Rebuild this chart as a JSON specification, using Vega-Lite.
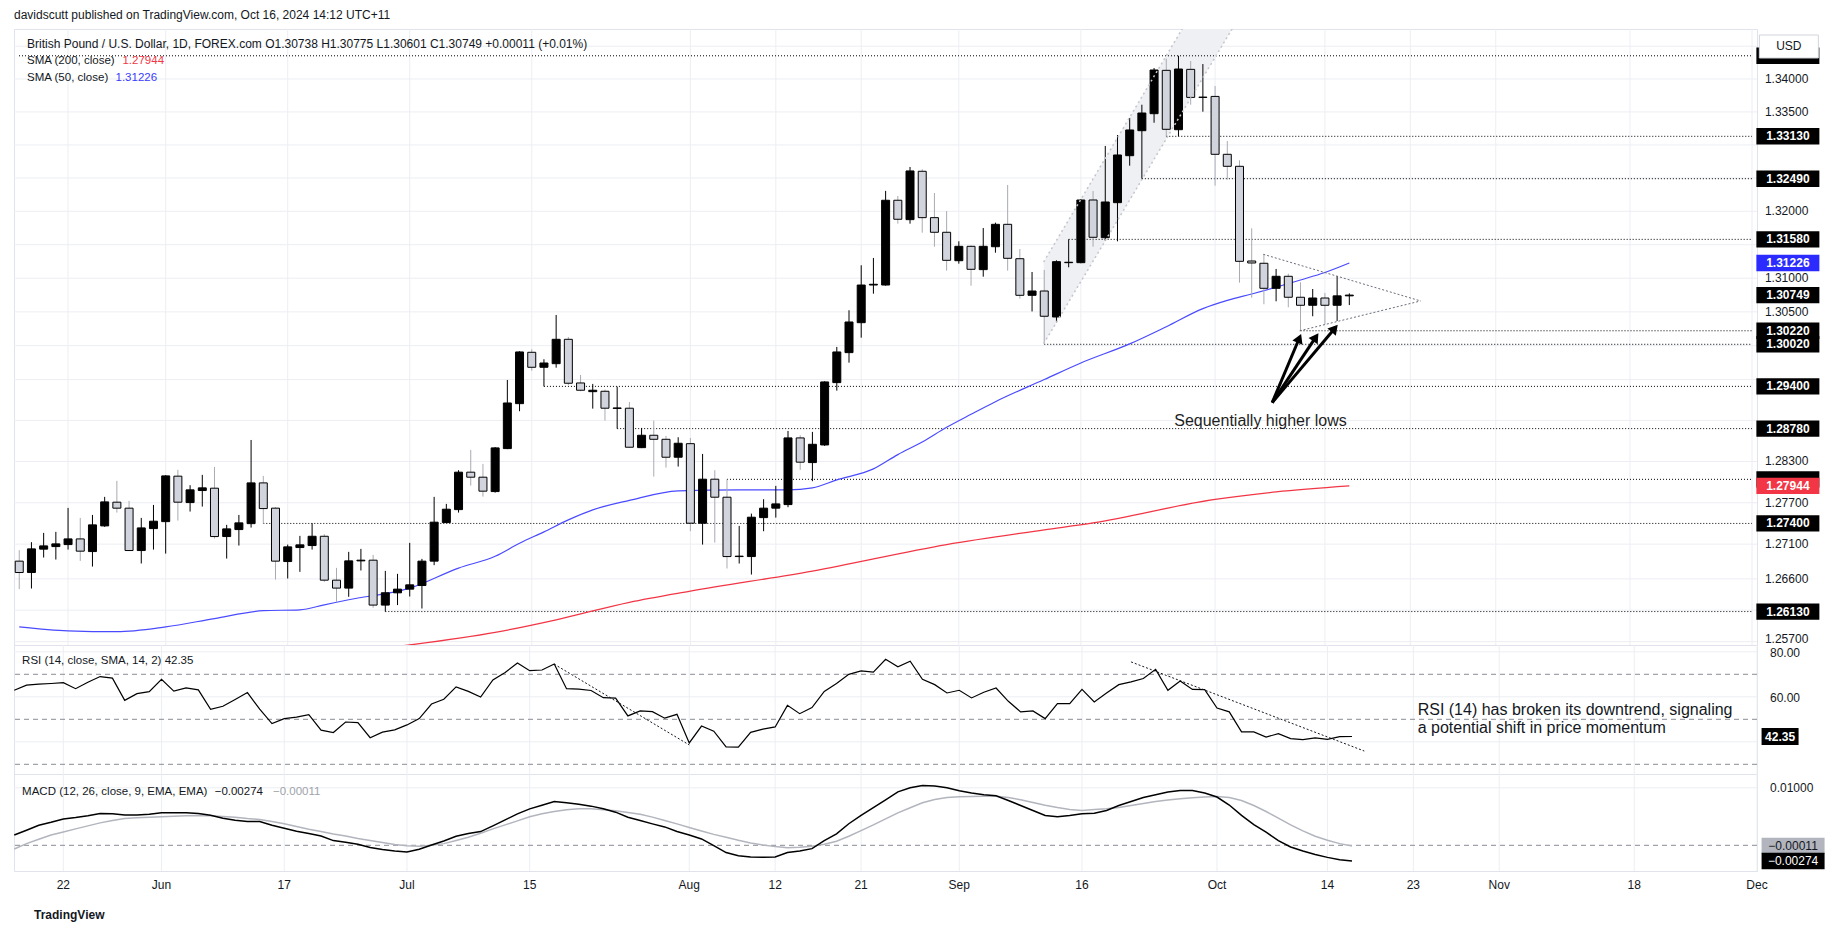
{
"$schema": "https://vega.github.io/schema/vega-lite/v6.json",
"background": "#ffffff",
"padding": {"left": 10, "top": 9, "right": 5, "bottom": 5},
"title": {"text": "davidscutt published on TradingView.com, Oct 16, 2024 14:12 UTC+11", "anchor": "start", "frame": "group", "fontSize": 12, "fontWeight": "normal", "font": "Liberation Sans", "color": "#131722", "offset": 6},
"config": {"font": "Liberation Sans", "view": {"stroke": "#e0e3eb"}, "axis": {"disable": true}},
"spacing": 0,
"bounds": "flush",
"datasets": {
"one": [{}],
"xt": [{"g":0,"t":"22"},{"g":8,"t":"Jun"},{"g":18,"t":"17"},{"g":28,"t":"Jul"},{"g":38,"t":"15"},{"g":51,"t":"Aug"},{"g":58,"t":"12"},{"g":65,"t":"21"},{"g":73,"t":"Sep"},{"g":83,"t":"16"},{"g":94,"t":"Oct"},{"g":103,"t":"14"},{"g":110,"t":"23"},{"g":117,"t":"Nov"},{"g":128,"t":"18"},{"g":138,"t":"Dec"}],
"pgrid": [{"p":1.257},{"p":1.2615},{"p":1.266},{"p":1.271},{"p":1.277},{"p":1.283},{"p":1.289},{"p":1.295},{"p":1.3},{"p":1.305},{"p":1.31},{"p":1.315},{"p":1.32},{"p":1.325},{"p":1.33},{"p":1.335},{"p":1.34},{"p":1.345}],
"plab": [{"p":1.266},{"p":1.271},{"p":1.277},{"p":1.283},{"p":1.305},{"p":1.31},{"p":1.32},{"p":1.335},{"p":1.34}],
"candles": [
{"i":-4,"o":1.26855,"h":1.27013,"l":1.26452,"c":1.26691},
{"i":-3,"o":1.26691,"h":1.27129,"l":1.26461,"c":1.27032},
{"i":-2,"o":1.27028,"h":1.27263,"l":1.26907,"c":1.27075},
{"i":-1,"o":1.27065,"h":1.27278,"l":1.26878,"c":1.27104},
{"i":0,"o":1.27094,"h":1.27625,"l":1.27022,"c":1.27176},
{"i":1,"o":1.27176,"h":1.2748,"l":1.26859,"c":1.26999},
{"i":2,"o":1.26993,"h":1.27523,"l":1.26777,"c":1.27379},
{"i":3,"o":1.27364,"h":1.27785,"l":1.2735,"c":1.27712},
{"i":4,"o":1.27708,"h":1.28018,"l":1.27557,"c":1.27621},
{"i":5,"o":1.27621,"h":1.27727,"l":1.27,"c":1.27008},
{"i":6,"o":1.27008,"h":1.2748,"l":1.26821,"c":1.27335},
{"i":7,"o":1.27325,"h":1.27668,"l":1.27022,"c":1.27432},
{"i":8,"o":1.27426,"h":1.281,"l":1.26964,"c":1.2809},
{"i":9,"o":1.28086,"h":1.28178,"l":1.27441,"c":1.27708},
{"i":10,"o":1.27702,"h":1.27955,"l":1.27572,"c":1.27887},
{"i":11,"o":1.27877,"h":1.28105,"l":1.27644,"c":1.27916},
{"i":12,"o":1.27911,"h":1.28221,"l":1.27181,"c":1.2721},
{"i":13,"o":1.2721,"h":1.27379,"l":1.26892,"c":1.27321},
{"i":14,"o":1.27311,"h":1.27523,"l":1.2708,"c":1.27408},
{"i":15,"o":1.27397,"h":1.28614,"l":1.2734,"c":1.27988},
{"i":16,"o":1.27988,"h":1.2809,"l":1.27397,"c":1.27615},
{"i":17,"o":1.27621,"h":1.27635,"l":1.2659,"c":1.26855},
{"i":18,"o":1.26849,"h":1.27094,"l":1.26605,"c":1.27061},
{"i":19,"o":1.27051,"h":1.2722,"l":1.26701,"c":1.2709},
{"i":20,"o":1.2708,"h":1.27403,"l":1.27022,"c":1.27214},
{"i":21,"o":1.27214,"h":1.27244,"l":1.26557,"c":1.26581},
{"i":22,"o":1.26581,"h":1.26758,"l":1.2627,"c":1.26467},
{"i":23,"o":1.26467,"h":1.26989,"l":1.26342,"c":1.26859},
{"i":24,"o":1.26859,"h":1.27032,"l":1.2672,"c":1.26869},
{"i":25,"o":1.26869,"h":1.26946,"l":1.26184,"c":1.26223},
{"i":26,"o":1.26223,"h":1.26715,"l":1.2613,"c":1.264},
{"i":27,"o":1.26399,"h":1.26672,"l":1.26223,"c":1.26452},
{"i":28,"o":1.26452,"h":1.27119,"l":1.26346,"c":1.26514},
{"i":29,"o":1.26504,"h":1.26888,"l":1.26174,"c":1.26855},
{"i":30,"o":1.26855,"h":1.27785,"l":1.26797,"c":1.27418},
{"i":31,"o":1.27412,"h":1.27683,"l":1.27405,"c":1.27606},
{"i":32,"o":1.276,"h":1.28173,"l":1.27557,"c":1.28144},
{"i":33,"o":1.28144,"h":1.28469,"l":1.27949,"c":1.28071},
{"i":34,"o":1.28071,"h":1.28265,"l":1.27789,"c":1.27868},
{"i":35,"o":1.27862,"h":1.2851,"l":1.27847,"c":1.28498},
{"i":36,"o":1.28488,"h":1.29494,"l":1.2848,"c":1.29156},
{"i":37,"o":1.29146,"h":1.29917,"l":1.29035,"c":1.29907},
{"i":38,"o":1.29902,"h":1.29946,"l":1.29631,"c":1.29681},
{"i":39,"o":1.29681,"h":1.29799,"l":1.294,"c":1.29744},
{"i":40,"o":1.29734,"h":1.30454,"l":1.29675,"c":1.30094},
{"i":41,"o":1.30094,"h":1.30128,"l":1.29416,"c":1.29446},
{"i":42,"o":1.2945,"h":1.29568,"l":1.29328,"c":1.29343},
{"i":43,"o":1.29322,"h":1.29436,"l":1.29073,"c":1.29343},
{"i":44,"o":1.29328,"h":1.29352,"l":1.28897,"c":1.29079},
{"i":45,"o":1.29076,"h":1.29396,"l":1.2878,"c":1.29083},
{"i":46,"o":1.29079,"h":1.29171,"l":1.285,"c":1.28508},
{"i":47,"o":1.28502,"h":1.2879,"l":1.28495,"c":1.28683},
{"i":48,"o":1.28683,"h":1.28897,"l":1.2808,"c":1.28624},
{"i":49,"o":1.28624,"h":1.28673,"l":1.28211,"c":1.28362},
{"i":50,"o":1.28362,"h":1.28654,"l":1.28226,"c":1.28566},
{"i":51,"o":1.2856,"h":1.28644,"l":1.27287,"c":1.27403},
{"i":52,"o":1.27403,"h":1.2841,"l":1.27094,"c":1.28042},
{"i":53,"o":1.28042,"h":1.28173,"l":1.27123,"c":1.2778},
{"i":54,"o":1.2778,"h":1.2804,"l":1.26749,"c":1.26921},
{"i":55,"o":1.26921,"h":1.27364,"l":1.26821,"c":1.26927},
{"i":56,"o":1.26921,"h":1.27542,"l":1.26662,"c":1.2749},
{"i":57,"o":1.27484,"h":1.27751,"l":1.27287,"c":1.27621},
{"i":58,"o":1.27621,"h":1.27945,"l":1.27484,"c":1.27683},
{"i":59,"o":1.27673,"h":1.28746,"l":1.27635,"c":1.28644},
{"i":60,"o":1.28644,"h":1.28683,"l":1.28178,"c":1.2829},
{"i":61,"o":1.28284,"h":1.28732,"l":1.28013,"c":1.28551},
{"i":62,"o":1.28541,"h":1.29475,"l":1.28527,"c":1.29465},
{"i":63,"o":1.29455,"h":1.29981,"l":1.29337,"c":1.29907},
{"i":64,"o":1.29897,"h":1.30524,"l":1.29749,"c":1.3035},
{"i":65,"o":1.3034,"h":1.31193,"l":1.30118,"c":1.30899},
{"i":66,"o":1.30899,"h":1.31302,"l":1.3077,"c":1.3091},
{"i":67,"o":1.30899,"h":1.32307,"l":1.30889,"c":1.32166},
{"i":68,"o":1.32166,"h":1.3223,"l":1.31815,"c":1.31881},
{"i":69,"o":1.31875,"h":1.32667,"l":1.31815,"c":1.32607},
{"i":70,"o":1.32602,"h":1.32632,"l":1.3168,"c":1.31905},
{"i":71,"o":1.31905,"h":1.32275,"l":1.3147,"c":1.31686},
{"i":72,"o":1.31686,"h":1.32005,"l":1.31113,"c":1.31267},
{"i":73,"o":1.31261,"h":1.31551,"l":1.31217,"c":1.31476},
{"i":74,"o":1.31476,"h":1.31491,"l":1.30889,"c":1.31133},
{"i":75,"o":1.31128,"h":1.3175,"l":1.31023,"c":1.31476},
{"i":76,"o":1.3147,"h":1.3183,"l":1.31381,"c":1.31805},
{"i":77,"o":1.31805,"h":1.32396,"l":1.31113,"c":1.31297},
{"i":78,"o":1.31291,"h":1.31436,"l":1.30696,"c":1.30746},
{"i":79,"o":1.30746,"h":1.31093,"l":1.30506,"c":1.3081},
{"i":80,"o":1.3081,"h":1.31123,"l":1.3002,"c":1.30435},
{"i":81,"o":1.30424,"h":1.31267,"l":1.30346,"c":1.31247},
{"i":82,"o":1.31232,"h":1.3158,"l":1.31163,"c":1.31238},
{"i":83,"o":1.31232,"h":1.3218,"l":1.31223,"c":1.3217},
{"i":84,"o":1.3217,"h":1.32305,"l":1.3147,"c":1.31611},
{"i":85,"o":1.31605,"h":1.32984,"l":1.3156,"c":1.3214},
{"i":86,"o":1.3213,"h":1.3315,"l":1.31551,"c":1.32848},
{"i":87,"o":1.32837,"h":1.33408,"l":1.32686,"c":1.33226},
{"i":88,"o":1.33215,"h":1.33609,"l":1.3249,"c":1.33483},
{"i":89,"o":1.33473,"h":1.34167,"l":1.33336,"c":1.34137},
{"i":90,"o":1.34132,"h":1.34309,"l":1.3313,"c":1.33236},
{"i":91,"o":1.3323,"h":1.34354,"l":1.3313,"c":1.34152},
{"i":92,"o":1.34147,"h":1.34274,"l":1.33609,"c":1.3372},
{"i":93,"o":1.3372,"h":1.34228,"l":1.33503,"c":1.33724},
{"i":94,"o":1.33735,"h":1.33893,"l":1.32385,"c":1.32858},
{"i":95,"o":1.32858,"h":1.33059,"l":1.32476,"c":1.32677},
{"i":96,"o":1.32677,"h":1.32768,"l":1.30934,"c":1.31252},
{"i":97,"o":1.31257,"h":1.31745,"l":1.30711,"c":1.31227},
{"i":98,"o":1.31223,"h":1.31357,"l":1.30613,"c":1.3085},
{"i":99,"o":1.3085,"h":1.31138,"l":1.30657,"c":1.31029},
{"i":100,"o":1.31029,"h":1.31068,"l":1.30568,"c":1.30717},
{"i":101,"o":1.30717,"h":1.3094,"l":1.3022,"c":1.30598},
{"i":102,"o":1.30598,"h":1.3084,"l":1.30435,"c":1.30706},
{"i":103,"o":1.30706,"h":1.30781,"l":1.30316,"c":1.30598},
{"i":104,"o":1.30598,"h":1.31033,"l":1.30365,"c":1.30738},
{"i":105,"o":1.30738,"h":1.30775,"l":1.30601,"c":1.30749}
],
"ind": [
{"i":-4,"rsi":62.9,"macd":0.0018,"sig":-0.00064},
{"i":-3,"rsi":65.2,"macd":0.00262,"sig":0.00029},
{"i":-2,"rsi":65.6,"macd":0.00349,"sig":0.00105},
{"i":-1,"rsi":65.9,"macd":0.00401,"sig":0.0018},
{"i":0,"rsi":66.3,"macd":0.00459,"sig":0.00233},
{"i":1,"rsi":63.6,"macd":0.00483,"sig":0.00286},
{"i":2,"rsi":66.5,"macd":0.00512,"sig":0.00338},
{"i":3,"rsi":69.0,"macd":0.00552,"sig":0.0039},
{"i":4,"rsi":68.3,"macd":0.00547,"sig":0.00431},
{"i":5,"rsi":58.4,"macd":0.00529,"sig":0.00466},
{"i":6,"rsi":61.4,"macd":0.00529,"sig":0.00477},
{"i":7,"rsi":62.3,"macd":0.00541,"sig":0.00489},
{"i":8,"rsi":67.8,"macd":0.00564,"sig":0.00498},
{"i":9,"rsi":62.5,"macd":0.00564,"sig":0.00506},
{"i":10,"rsi":64.0,"macd":0.00564,"sig":0.00512},
{"i":11,"rsi":63.1,"macd":0.00553,"sig":0.00518},
{"i":12,"rsi":54.4,"macd":0.00524,"sig":0.00512},
{"i":13,"rsi":55.8,"macd":0.00471,"sig":0.005},
{"i":14,"rsi":58.8,"macd":0.00436,"sig":0.00489},
{"i":15,"rsi":61.9,"macd":0.00416,"sig":0.00466},
{"i":16,"rsi":54.5,"macd":0.00413,"sig":0.00448},
{"i":17,"rsi":48.1,"macd":0.00349,"sig":0.00413},
{"i":18,"rsi":50.3,"macd":0.00297,"sig":0.00373},
{"i":19,"rsi":51.0,"macd":0.00245,"sig":0.00326},
{"i":20,"rsi":52.1,"macd":0.00204,"sig":0.0028},
{"i":21,"rsi":45.2,"macd":0.00163,"sig":0.00239},
{"i":22,"rsi":44.1,"macd":0.00082,"sig":0.00198},
{"i":23,"rsi":48.8,"macd":0.00052,"sig":0.00163},
{"i":24,"rsi":48.5,"macd":0.00017,"sig":0.00117},
{"i":25,"rsi":41.8,"macd":-0.0004,"sig":0.00082},
{"i":26,"rsi":44.3,"macd":-0.00075,"sig":0.00047},
{"i":27,"rsi":45.3,"macd":-0.00099,"sig":0.00012},
{"i":28,"rsi":47.5,"macd":-0.00116,"sig":-0.00006},
{"i":29,"rsi":50.3,"macd":-0.00069,"sig":-0.00017},
{"i":30,"rsi":56.8,"macd":0.00006,"sig":0.0},
{"i":31,"rsi":58.9,"macd":0.00076,"sig":0.00029},
{"i":32,"rsi":64.4,"macd":0.00157,"sig":0.00082},
{"i":33,"rsi":62.4,"macd":0.00204,"sig":0.0014},
{"i":34,"rsi":59.9,"macd":0.00239,"sig":0.0021},
{"i":35,"rsi":67.5,"macd":0.00338,"sig":0.00286},
{"i":36,"rsi":70.8,"macd":0.00442,"sig":0.00355},
{"i":37,"rsi":75.0,"macd":0.00547,"sig":0.00425},
{"i":38,"rsi":71.6,"macd":0.00634,"sig":0.00495},
{"i":39,"rsi":71.9,"macd":0.00698,"sig":0.00547},
{"i":40,"rsi":74.6,"macd":0.00762,"sig":0.00588},
{"i":41,"rsi":63.6,"macd":0.00739,"sig":0.00617},
{"i":42,"rsi":63.4,"macd":0.00715,"sig":0.00634},
{"i":43,"rsi":62.8,"macd":0.00681,"sig":0.00634},
{"i":44,"rsi":59.6,"macd":0.00634,"sig":0.00617},
{"i":45,"rsi":59.4,"macd":0.00576,"sig":0.00599},
{"i":46,"rsi":51.5,"macd":0.00489,"sig":0.0057},
{"i":47,"rsi":53.7,"macd":0.00431,"sig":0.0054},
{"i":48,"rsi":53.4,"macd":0.00373,"sig":0.0049},
{"i":49,"rsi":50.5,"macd":0.0032,"sig":0.0043},
{"i":50,"rsi":52.2,"macd":0.00239,"sig":0.00373},
{"i":51,"rsi":39.5,"macd":0.0018,"sig":0.0031},
{"i":52,"rsi":47.0,"macd":0.00111,"sig":0.0025},
{"i":53,"rsi":44.7,"macd":-0.00005,"sig":0.0019},
{"i":54,"rsi":37.7,"macd":-0.00127,"sig":0.0014},
{"i":55,"rsi":37.6,"macd":-0.0018,"sig":0.00087},
{"i":56,"rsi":44.2,"macd":-0.00204,"sig":0.00041},
{"i":57,"rsi":45.6,"macd":-0.00206,"sig":0.00006},
{"i":58,"rsi":46.6,"macd":-0.00204,"sig":-0.00023},
{"i":59,"rsi":56.2,"macd":-0.00127,"sig":-0.00041},
{"i":60,"rsi":52.5,"macd":-0.00098,"sig":-0.00035},
{"i":61,"rsi":55.2,"macd":-0.00058,"sig":-0.00017},
{"i":62,"rsi":62.4,"macd":0.0008,"sig":0.00017},
{"i":63,"rsi":65.9,"macd":0.00199,"sig":0.0007},
{"i":64,"rsi":70.0,"macd":0.00375,"sig":0.00157},
{"i":65,"rsi":71.5,"macd":0.0052,"sig":0.00256},
{"i":66,"rsi":71.0,"macd":0.00655,"sig":0.00355},
{"i":67,"rsi":76.7,"macd":0.0079,"sig":0.0046},
{"i":68,"rsi":73.3,"macd":0.0093,"sig":0.00564},
{"i":69,"rsi":75.8,"macd":0.01,"sig":0.00652},
{"i":70,"rsi":67.8,"macd":0.0104,"sig":0.00739},
{"i":71,"rsi":65.4,"macd":0.0103,"sig":0.00797},
{"i":72,"rsi":61.7,"macd":0.01001,"sig":0.00832},
{"i":73,"rsi":62.9,"macd":0.00948,"sig":0.00844},
{"i":74,"rsi":59.5,"macd":0.00908,"sig":0.00849},
{"i":75,"rsi":62.0,"macd":0.00879,"sig":0.00855},
{"i":76,"rsi":63.9,"macd":0.00861,"sig":0.00855},
{"i":77,"rsi":58.0,"macd":0.0078,"sig":0.00832},
{"i":78,"rsi":53.3,"macd":0.00692,"sig":0.00791},
{"i":79,"rsi":53.7,"macd":0.00605,"sig":0.00745},
{"i":80,"rsi":50.3,"macd":0.00518,"sig":0.00698},
{"i":81,"rsi":57.0,"macd":0.00495,"sig":0.00657},
{"i":82,"rsi":57.0,"macd":0.00518,"sig":0.00623},
{"i":83,"rsi":63.3,"macd":0.00547,"sig":0.00605},
{"i":84,"rsi":57.7,"macd":0.00559,"sig":0.00623},
{"i":85,"rsi":61.7,"macd":0.00605,"sig":0.00634},
{"i":86,"rsi":65.4,"macd":0.00692,"sig":0.00657},
{"i":87,"rsi":66.6,"macd":0.00762,"sig":0.00692},
{"i":88,"rsi":68.1,"macd":0.00832,"sig":0.00727},
{"i":89,"rsi":72.2,"macd":0.00879,"sig":0.00762},
{"i":90,"rsi":62.9,"macd":0.00925,"sig":0.00786},
{"i":91,"rsi":67.0,"macd":0.00954,"sig":0.00809},
{"i":92,"rsi":63.3,"macd":0.00954,"sig":0.00826},
{"i":93,"rsi":63.2,"macd":0.00908,"sig":0.00838},
{"i":94,"rsi":55.0,"macd":0.0084,"sig":0.00849},
{"i":95,"rsi":53.3,"macd":0.007,"sig":0.00832},
{"i":96,"rsi":44.4,"macd":0.0052,"sig":0.0078},
{"i":97,"rsi":44.4,"macd":0.0036,"sig":0.00692},
{"i":98,"rsi":42.1,"macd":0.0023,"sig":0.00588},
{"i":99,"rsi":43.6,"macd":0.0008,"sig":0.00471},
{"i":100,"rsi":41.4,"macd":-0.0003,"sig":0.00355},
{"i":101,"rsi":41.0,"macd":-0.001,"sig":0.0025},
{"i":102,"rsi":41.7,"macd":-0.0016,"sig":0.00157},
{"i":103,"rsi":41.1,"macd":-0.0021,"sig":0.00087},
{"i":104,"rsi":42.3,"macd":-0.0025,"sig":0.00029},
{"i":105,"rsi":42.35,"macd":-0.00274,"sig":-0.00011}
]
},
"vconcat": [
{
"width": 1743, "height": 616,
"layer": [
{
"data": {"name": "pgrid"},
"mark": {"type": "rule", "color": "#eceef3", "strokeWidth": 1},
"encoding": {"y": {"field": "p", "type": "quantitative", "scale": {"type": "log", "domain": [1.256518, 1.347636], "nice": false}}}
},
{
"data": {"name": "xt"},
"mark": {"type": "rule", "color": "#eceef3", "strokeWidth": 1},
"encoding": {"x": {"field": "g", "type": "quantitative", "scale": {"domain": [-4.02, 138], "nice": false, "zero": false}}}
},
{
"data": {"values": [{"i":79.95,"top":1.31242,"bot":1.30029},{"i":96,"top":1.36248,"bot":1.34954}]},
"mark": {"type": "area", "color": "#eff0f3", "clip": true},
"encoding": {
"x": {"field": "i", "type": "quantitative"},
"y": {"field": "top", "type": "quantitative"},
"y2": {"field": "bot"}
}
},
{
"data": {"values": [{"p":1.34354,"s":-4.02},{"p":1.3313,"s":90},{"p":1.3249,"s":88},{"p":1.3158,"s":82},{"p":1.3022,"s":101},{"p":1.3002,"s":80},{"p":1.294,"s":39},{"p":1.2878,"s":45},{"p":1.2804,"s":54},{"p":1.274,"s":16},{"p":1.2613,"s":26}]},
"mark": {"type": "rule", "color": "#000000", "strokeDash": [1, 2], "strokeWidth": 1, "clip": true},
"encoding": {
"x": {"field": "s", "type": "quantitative"},
"x2": {"datum": 138},
"y": {"field": "p", "type": "quantitative"}
}
},
{
"data": {"values": [{"i":26,"v":1.2561},{"i":28,"v":1.25653},{"i":35,"v":1.25832},{"i":40,"v":1.26012},{"i":46,"v":1.26263},{"i":51,"v":1.26424},{"i":61,"v":1.26711},{"i":72,"v":1.27094},{"i":80,"v":1.27306},{"i":84,"v":1.27408},{"i":94,"v":1.27748},{"i":99,"v":1.27857},{"i":105,"v":1.27944}]},
"mark": {"type": "line", "color": "#f23645", "strokeWidth": 1.3, "interpolate": "monotone", "clip": true},
"encoding": {
"x": {"field": "i", "type": "quantitative"},
"y": {"field": "v", "type": "quantitative"}
}
},
{
"data": {"values": [{"i":-4,"v":1.25911},{"i":0,"v":1.25854},{"i":4,"v":1.25842},{"i":8,"v":1.25911},{"i":12,"v":1.2603},{"i":16,"v":1.26143},{"i":19,"v":1.26155},{"i":21,"v":1.26227},{"i":23,"v":1.263},{"i":28,"v":1.26466},{"i":32,"v":1.26755},{"i":35,"v":1.26925},{"i":37,"v":1.27113},{"i":39,"v":1.27278},{"i":41,"v":1.27451},{"i":43,"v":1.27596},{"i":46,"v":1.27734},{"i":50,"v":1.27872},{"i":55,"v":1.27887},{"i":59,"v":1.27887},{"i":61,"v":1.27916},{"i":63,"v":1.28032},{"i":66,"v":1.28192},{"i":68,"v":1.284},{"i":70,"v":1.28585},{"i":72,"v":1.288},{"i":74,"v":1.2899},{"i":76,"v":1.29175},{"i":80,"v":1.295},{"i":83,"v":1.29745},{"i":87,"v":1.30026},{"i":90,"v":1.3028},{"i":93,"v":1.30548},{"i":95,"v":1.3067},{"i":97,"v":1.30766},{"i":101,"v":1.30974},{"i":103,"v":1.31085},{"i":105,"v":1.31226}]},
"mark": {"type": "line", "color": "#4a4aff", "strokeWidth": 1.2, "interpolate": "monotone", "clip": true},
"encoding": {
"x": {"field": "i", "type": "quantitative"},
"y": {"field": "v", "type": "quantitative"}
}
},
{
"data": {"name": "candles"},
"mark": {"type": "rule", "strokeWidth": 1, "clip": true},
"encoding": {
"x": {"field": "i", "type": "quantitative"},
"y": {"field": "l", "type": "quantitative"},
"y2": {"field": "h"},
"color": {"condition": {"test": "datum.c >= datum.o", "value": "#000000"}, "value": "#a8abb3"}
}
},
{
"data": {"name": "candles"},
"mark": {"type": "bar", "width": 8, "stroke": "#000000", "strokeWidth": 1, "clip": true},
"encoding": {
"x": {"field": "i", "type": "quantitative"},
"y": {"field": "o", "type": "quantitative"},
"y2": {"field": "c"},
"fill": {"condition": {"test": "datum.c >= datum.o", "value": "#000000"}, "value": "#d1d4dc"}
}
},
{
"data": {"values": [{"xa":79.95,"ya":1.31242,"xb":96,"yb":1.36248},{"xa":79.95,"ya":1.30029,"xb":96,"yb":1.34954}]},
"mark": {"type": "rule", "color": "#c4c6cd", "strokeWidth": 1.5, "strokeDash": [2, 3], "clip": true},
"encoding": {
"x": {"field": "xa", "type": "quantitative"},
"y": {"field": "ya", "type": "quantitative"},
"x2": {"field": "xb"},
"y2": {"field": "yb"}
}
},
{
"data": {"values": [{"xa":97.95,"ya":1.31357,"xb":110.84,"yb":1.30662},{"xa":100.93,"ya":1.3022,"xb":110.84,"yb":1.30662}]},
"mark": {"type": "rule", "color": "#6a6d78", "strokeWidth": 1, "strokeDash": [2, 2]},
"encoding": {
"x": {"field": "xa", "type": "quantitative"},
"y": {"field": "ya", "type": "quantitative"},
"x2": {"field": "xb"},
"y2": {"field": "yb"}
}
},
{
"data": {"values": [{"xa":98.68,"ya":1.29161,"xb":100.9,"yb":1.30109,"ang":23},{"xa":98.68,"ya":1.29161,"xb":102.25,"yb":1.30126,"ang":34},{"xa":98.68,"ya":1.29161,"xb":103.8,"yb":1.30254,"ang":40}]},
"layer": [
{"mark": {"type": "rule", "color": "#000000", "strokeWidth": 3},
 "encoding": {"x": {"field": "xa", "type": "quantitative"}, "y": {"field": "ya", "type": "quantitative"}, "x2": {"field": "xb"}, "y2": {"field": "yb"}}},
{"mark": {"type": "point", "shape": "triangle-up", "filled": true, "color": "#000000", "opacity": 1, "size": 120},
 "encoding": {"x": {"field": "xb", "type": "quantitative"}, "y": {"field": "yb", "type": "quantitative"}, "angle": {"field": "ang", "type": "quantitative", "scale": null}}}
]
},
{
"data": {"name": "one"},
"mark": {"type": "text", "text": "Sequentially higher lows", "align": "left", "baseline": "middle", "fontSize": 16, "color": "#1e1e1e"},
"encoding": {"x": {"datum": 90.65}, "y": {"datum": 1.28893}}
},
{
"data": {"name": "one"},
"mark": {"type": "text", "text": "British Pound / U.S. Dollar, 1D, FOREX.com  O1.30738  H1.30775  L1.30601  C1.30749  +0.00011 (+0.01%)", "align": "left", "baseline": "middle", "fontSize": 12, "color": "#131722"},
"encoding": {"x": {"datum": -3.36}, "y": {"datum": 1.34529}}
},
{
"data": {"name": "one"},
"mark": {"type": "text", "text": "SMA (200, close)", "align": "left", "baseline": "middle", "fontSize": 11.5, "color": "#131722"},
"encoding": {"x": {"datum": -3.36}, "y": {"datum": 1.3427}}
},
{
"data": {"name": "one"},
"mark": {"type": "text", "text": "1.27944", "align": "left", "baseline": "middle", "fontSize": 11.5, "color": "#f23645"},
"encoding": {"x": {"datum": 4.46}, "y": {"datum": 1.3427}}
},
{
"data": {"name": "one"},
"mark": {"type": "text", "text": "SMA (50, close)", "align": "left", "baseline": "middle", "fontSize": 11.5, "color": "#131722"},
"encoding": {"x": {"datum": -3.36}, "y": {"datum": 1.34015}}
},
{
"data": {"name": "one"},
"mark": {"type": "text", "text": "1.31226", "align": "left", "baseline": "middle", "fontSize": 11.5, "color": "#3a3aff"},
"encoding": {"x": {"datum": 3.89}, "y": {"datum": 1.34015}}
},
{
"data": {"name": "plab"},
"mark": {"type": "text", "align": "left", "baseline": "middle", "fontSize": 12, "color": "#131722"},
"encoding": {"x": {"datum": 139.06}, "y": {"field": "p", "type": "quantitative"}, "text": {"field": "p", "type": "quantitative", "format": ".5f"}}
},
{
"data": {"values": [{"p":1.257}]},
"mark": {"type": "text", "align": "left", "baseline": "middle", "fontSize": 12, "dy": -3, "color": "#131722"},
"encoding": {"x": {"datum": 139.06}, "y": {"field": "p", "type": "quantitative"}, "text": {"field": "p", "type": "quantitative", "format": ".5f"}}
},
{
"data": {"values": [{"p":1.34354},{"p":1.3313},{"p":1.3249},{"p":1.3158},{"p":1.30749},{"p":1.3022},{"p":1.3002},{"p":1.294},{"p":1.2878},{"p":1.2804},{"p":1.274},{"p":1.2613}]},
"mark": {"type": "point", "shape": "M-1,-0.26L1,-0.26L1,0.26L-1,0.26Z", "size": 3969, "filled": true, "color": "#000000", "opacity": 1},
"encoding": {"x": {"datum": 140.94}, "y": {"field": "p", "type": "quantitative"}}
},
{
"data": {"values": [{"p":1.3313},{"p":1.3249},{"p":1.3158},{"p":1.30749},{"p":1.3022},{"p":1.3002},{"p":1.294},{"p":1.2878},{"p":1.274},{"p":1.2613}]},
"mark": {"type": "text", "color": "#ffffff", "fontWeight": "bold", "fontSize": 12, "align": "center", "baseline": "middle"},
"encoding": {"x": {"datum": 140.94}, "y": {"field": "p", "type": "quantitative"}, "text": {"field": "p", "type": "quantitative", "format": ".5f"}}
},
{
"data": {"values": [{"p":1.31226}]},
"layer": [
{"mark": {"type": "point", "shape": "M-1,-0.26L1,-0.26L1,0.26L-1,0.26Z", "size": 3969, "filled": true, "color": "#2b2bff", "opacity": 1},
 "encoding": {"x": {"datum": 140.94}, "y": {"field": "p", "type": "quantitative"}}},
{"mark": {"type": "text", "color": "#ffffff", "fontWeight": "bold", "fontSize": 12, "align": "center", "baseline": "middle"},
 "encoding": {"x": {"datum": 140.94}, "y": {"field": "p", "type": "quantitative"}, "text": {"field": "p", "type": "quantitative", "format": ".5f"}}}
]
},
{
"data": {"values": [{"p":1.27944}]},
"layer": [
{"mark": {"type": "point", "shape": "M-1,-0.26L1,-0.26L1,0.26L-1,0.26Z", "size": 3969, "filled": true, "color": "#f23645", "opacity": 1},
 "encoding": {"x": {"datum": 140.94}, "y": {"field": "p", "type": "quantitative"}}},
{"mark": {"type": "text", "color": "#ffffff", "fontWeight": "bold", "fontSize": 12, "align": "center", "baseline": "middle"},
 "encoding": {"x": {"datum": 140.94}, "y": {"field": "p", "type": "quantitative"}, "text": {"field": "p", "type": "quantitative", "format": ".5f"}}}
]
},
{
"data": {"name": "one"},
"mark": {"type": "point", "shape": "M-1,-0.39L1,-0.39L1,0.39L-1,0.39Z", "size": 3481, "filled": true, "fill": "#ffffff", "stroke": "#d1d4dc", "strokeWidth": 1, "opacity": 1},
"encoding": {"x": {"datum": 141.02}, "y": {"datum": 1.34496}}
},
{
"data": {"name": "one"},
"mark": {"type": "text", "text": "USD", "align": "center", "baseline": "middle", "fontSize": 12, "color": "#131722"},
"encoding": {"x": {"datum": 141.02}, "y": {"datum": 1.34496}}
}
]
},
{
"width": 1743, "height": 129,
"layer": [
{
"data": {"values": [{"v":40},{"v":60},{"v":80}]},
"mark": {"type": "rule", "color": "#eceef3", "strokeWidth": 1},
"encoding": {"y": {"field": "v", "type": "quantitative", "scale": {"domain": [25.69, 83.02], "nice": false, "zero": false}}}
},
{
"data": {"name": "xt"},
"mark": {"type": "rule", "color": "#eceef3", "strokeWidth": 1},
"encoding": {"x": {"field": "g", "type": "quantitative", "scale": {"domain": [-4.02, 138], "nice": false, "zero": false}}}
},
{
"data": {"values": [{"v":70},{"v":50},{"v":30}]},
"mark": {"type": "rule", "color": "#8a8d96", "strokeDash": [5, 4], "strokeWidth": 1},
"encoding": {"y": {"field": "v", "type": "quantitative"}}
},
{
"data": {"name": "ind"},
"mark": {"type": "line", "color": "#000000", "strokeWidth": 1.2},
"encoding": {
"x": {"field": "i", "type": "quantitative"},
"y": {"field": "rsi", "type": "quantitative"}
}
},
{
"data": {"values": [{"xa":40,"ya":74.5,"xb":51,"yb":38.6},{"xa":87,"ya":75.5,"xb":106,"yb":35.9}]},
"mark": {"type": "rule", "color": "#131722", "strokeWidth": 1, "strokeDash": [2, 2]},
"encoding": {
"x": {"field": "xa", "type": "quantitative"},
"y": {"field": "ya", "type": "quantitative"},
"x2": {"field": "xb"},
"y2": {"field": "yb"}
}
},
{
"data": {"name": "one"},
"mark": {"type": "text", "text": "RSI (14) has broken its downtrend, signaling", "align": "left", "baseline": "middle", "fontSize": 16, "color": "#131722"},
"encoding": {"x": {"datum": 110.35}, "y": {"datum": 54.1}}
},
{
"data": {"name": "one"},
"mark": {"type": "text", "text": "a potential shift in price momentum", "align": "left", "baseline": "middle", "fontSize": 16, "color": "#131722"},
"encoding": {"x": {"datum": 110.35}, "y": {"datum": 46.1}}
},
{
"data": {"name": "one"},
"mark": {"type": "text", "text": "RSI (14, close, SMA, 14, 2)  42.35", "align": "left", "baseline": "middle", "fontSize": 11.5, "color": "#131722"},
"encoding": {"x": {"datum": -3.36}, "y": {"datum": 75.9}}
},
{
"data": {"values": [{"v":60},{"v":80}]},
"mark": {"type": "text", "align": "left", "baseline": "middle", "fontSize": 12, "dy": 1, "color": "#131722"},
"encoding": {"x": {"datum": 139.06}, "y": {"field": "v", "type": "quantitative"}, "text": {"field": "v", "type": "quantitative", "format": ".2f"}}
},
{
"data": {"name": "one"},
"mark": {"type": "point", "shape": "M-1,-0.46L1,-0.46L1,0.46L-1,0.46Z", "size": 1369, "filled": true, "color": "#000000", "opacity": 1},
"encoding": {"x": {"datum": 139.88}, "y": {"datum": 42.35}}
},
{
"data": {"name": "one"},
"mark": {"type": "text", "text": "42.35", "align": "center", "baseline": "middle", "fontSize": 12, "fontWeight": "bold", "color": "#ffffff"},
"encoding": {"x": {"datum": 139.88}, "y": {"datum": 42.35}}
}
]
},
{
"width": 1743, "height": 97,
"layer": [
{
"data": {"values": [{"v":0.01}]},
"mark": {"type": "rule", "color": "#eceef3", "strokeWidth": 1},
"encoding": {"y": {"field": "v", "type": "quantitative", "scale": {"domain": [-0.00447, 0.0124], "nice": false, "zero": false}}}
},
{
"data": {"name": "xt"},
"mark": {"type": "rule", "color": "#eceef3", "strokeWidth": 1},
"encoding": {"x": {"field": "g", "type": "quantitative", "scale": {"domain": [-4.02, 138], "nice": false, "zero": false}}}
},
{
"data": {"name": "one"},
"mark": {"type": "rule", "color": "#8a8d96", "strokeDash": [5, 4], "strokeWidth": 1},
"encoding": {"y": {"datum": 0}}
},
{
"data": {"name": "ind"},
"mark": {"type": "line", "color": "#b2b5be", "strokeWidth": 1.5},
"encoding": {
"x": {"field": "i", "type": "quantitative"},
"y": {"field": "sig", "type": "quantitative"}
}
},
{
"data": {"name": "ind"},
"mark": {"type": "line", "color": "#000000", "strokeWidth": 1.5},
"encoding": {
"x": {"field": "i", "type": "quantitative"},
"y": {"field": "macd", "type": "quantitative"}
}
},
{
"data": {"name": "one"},
"mark": {"type": "text", "text": "MACD (12, 26, close, 9, EMA, EMA)", "align": "left", "baseline": "middle", "fontSize": 11.5, "color": "#131722"},
"encoding": {"x": {"datum": -3.36}, "y": {"datum": 0.00927}}
},
{
"data": {"name": "one"},
"mark": {"type": "text", "text": "−0.00274", "align": "left", "baseline": "middle", "fontSize": 11.5, "color": "#131722"},
"encoding": {"x": {"datum": 12.33}, "y": {"datum": 0.00927}}
},
{
"data": {"name": "one"},
"mark": {"type": "text", "text": "−0.00011", "align": "left", "baseline": "middle", "fontSize": 11.5, "color": "#a0a3ab"},
"encoding": {"x": {"datum": 17.08}, "y": {"datum": 0.00927}}
},
{
"data": {"values": [{"v":0.01}]},
"mark": {"type": "text", "align": "left", "baseline": "middle", "fontSize": 12, "color": "#131722"},
"encoding": {"x": {"datum": 139.06}, "y": {"field": "v", "type": "quantitative"}, "text": {"field": "v", "type": "quantitative", "format": ".5f"}}
},
{
"data": {"name": "one"},
"mark": {"type": "point", "shape": "M-1,-0.26L1,-0.26L1,0.26L-1,0.26Z", "size": 3969, "filled": true, "color": "#b2b5be", "opacity": 1},
"encoding": {"x": {"datum": 140.94}, "y": {"datum": -0.00011}}
},
{
"data": {"name": "one"},
"mark": {"type": "text", "text": "−0.00011", "align": "center", "baseline": "middle", "fontSize": 12, "color": "#131722"},
"encoding": {"x": {"datum": 140.94}, "y": {"datum": -0.00011}}
},
{
"data": {"name": "one"},
"mark": {"type": "point", "shape": "M-1,-0.26L1,-0.26L1,0.26L-1,0.26Z", "size": 3969, "filled": true, "color": "#000000", "opacity": 1},
"encoding": {"x": {"datum": 140.94}, "y": {"datum": -0.00274}}
},
{
"data": {"name": "one"},
"mark": {"type": "text", "text": "−0.00274", "align": "center", "baseline": "middle", "fontSize": 12, "color": "#ffffff"},
"encoding": {"x": {"datum": 140.94}, "y": {"datum": -0.00274}}
},
{
"data": {"name": "xt"},
"mark": {"type": "text", "align": "center", "baseline": "middle", "fontSize": 12, "color": "#131722"},
"encoding": {"x": {"field": "g", "type": "quantitative"}, "y": {"datum": -0.0069}, "text": {"field": "t", "type": "nominal"}}
},
{
"data": {"name": "one"},
"mark": {"type": "text", "text": "TradingView", "align": "left", "baseline": "middle", "fontSize": 12, "fontWeight": "bold", "color": "#131722"},
"encoding": {"x": {"datum": -2.39}, "y": {"datum": -0.01212}}
}
]
}
]
}
